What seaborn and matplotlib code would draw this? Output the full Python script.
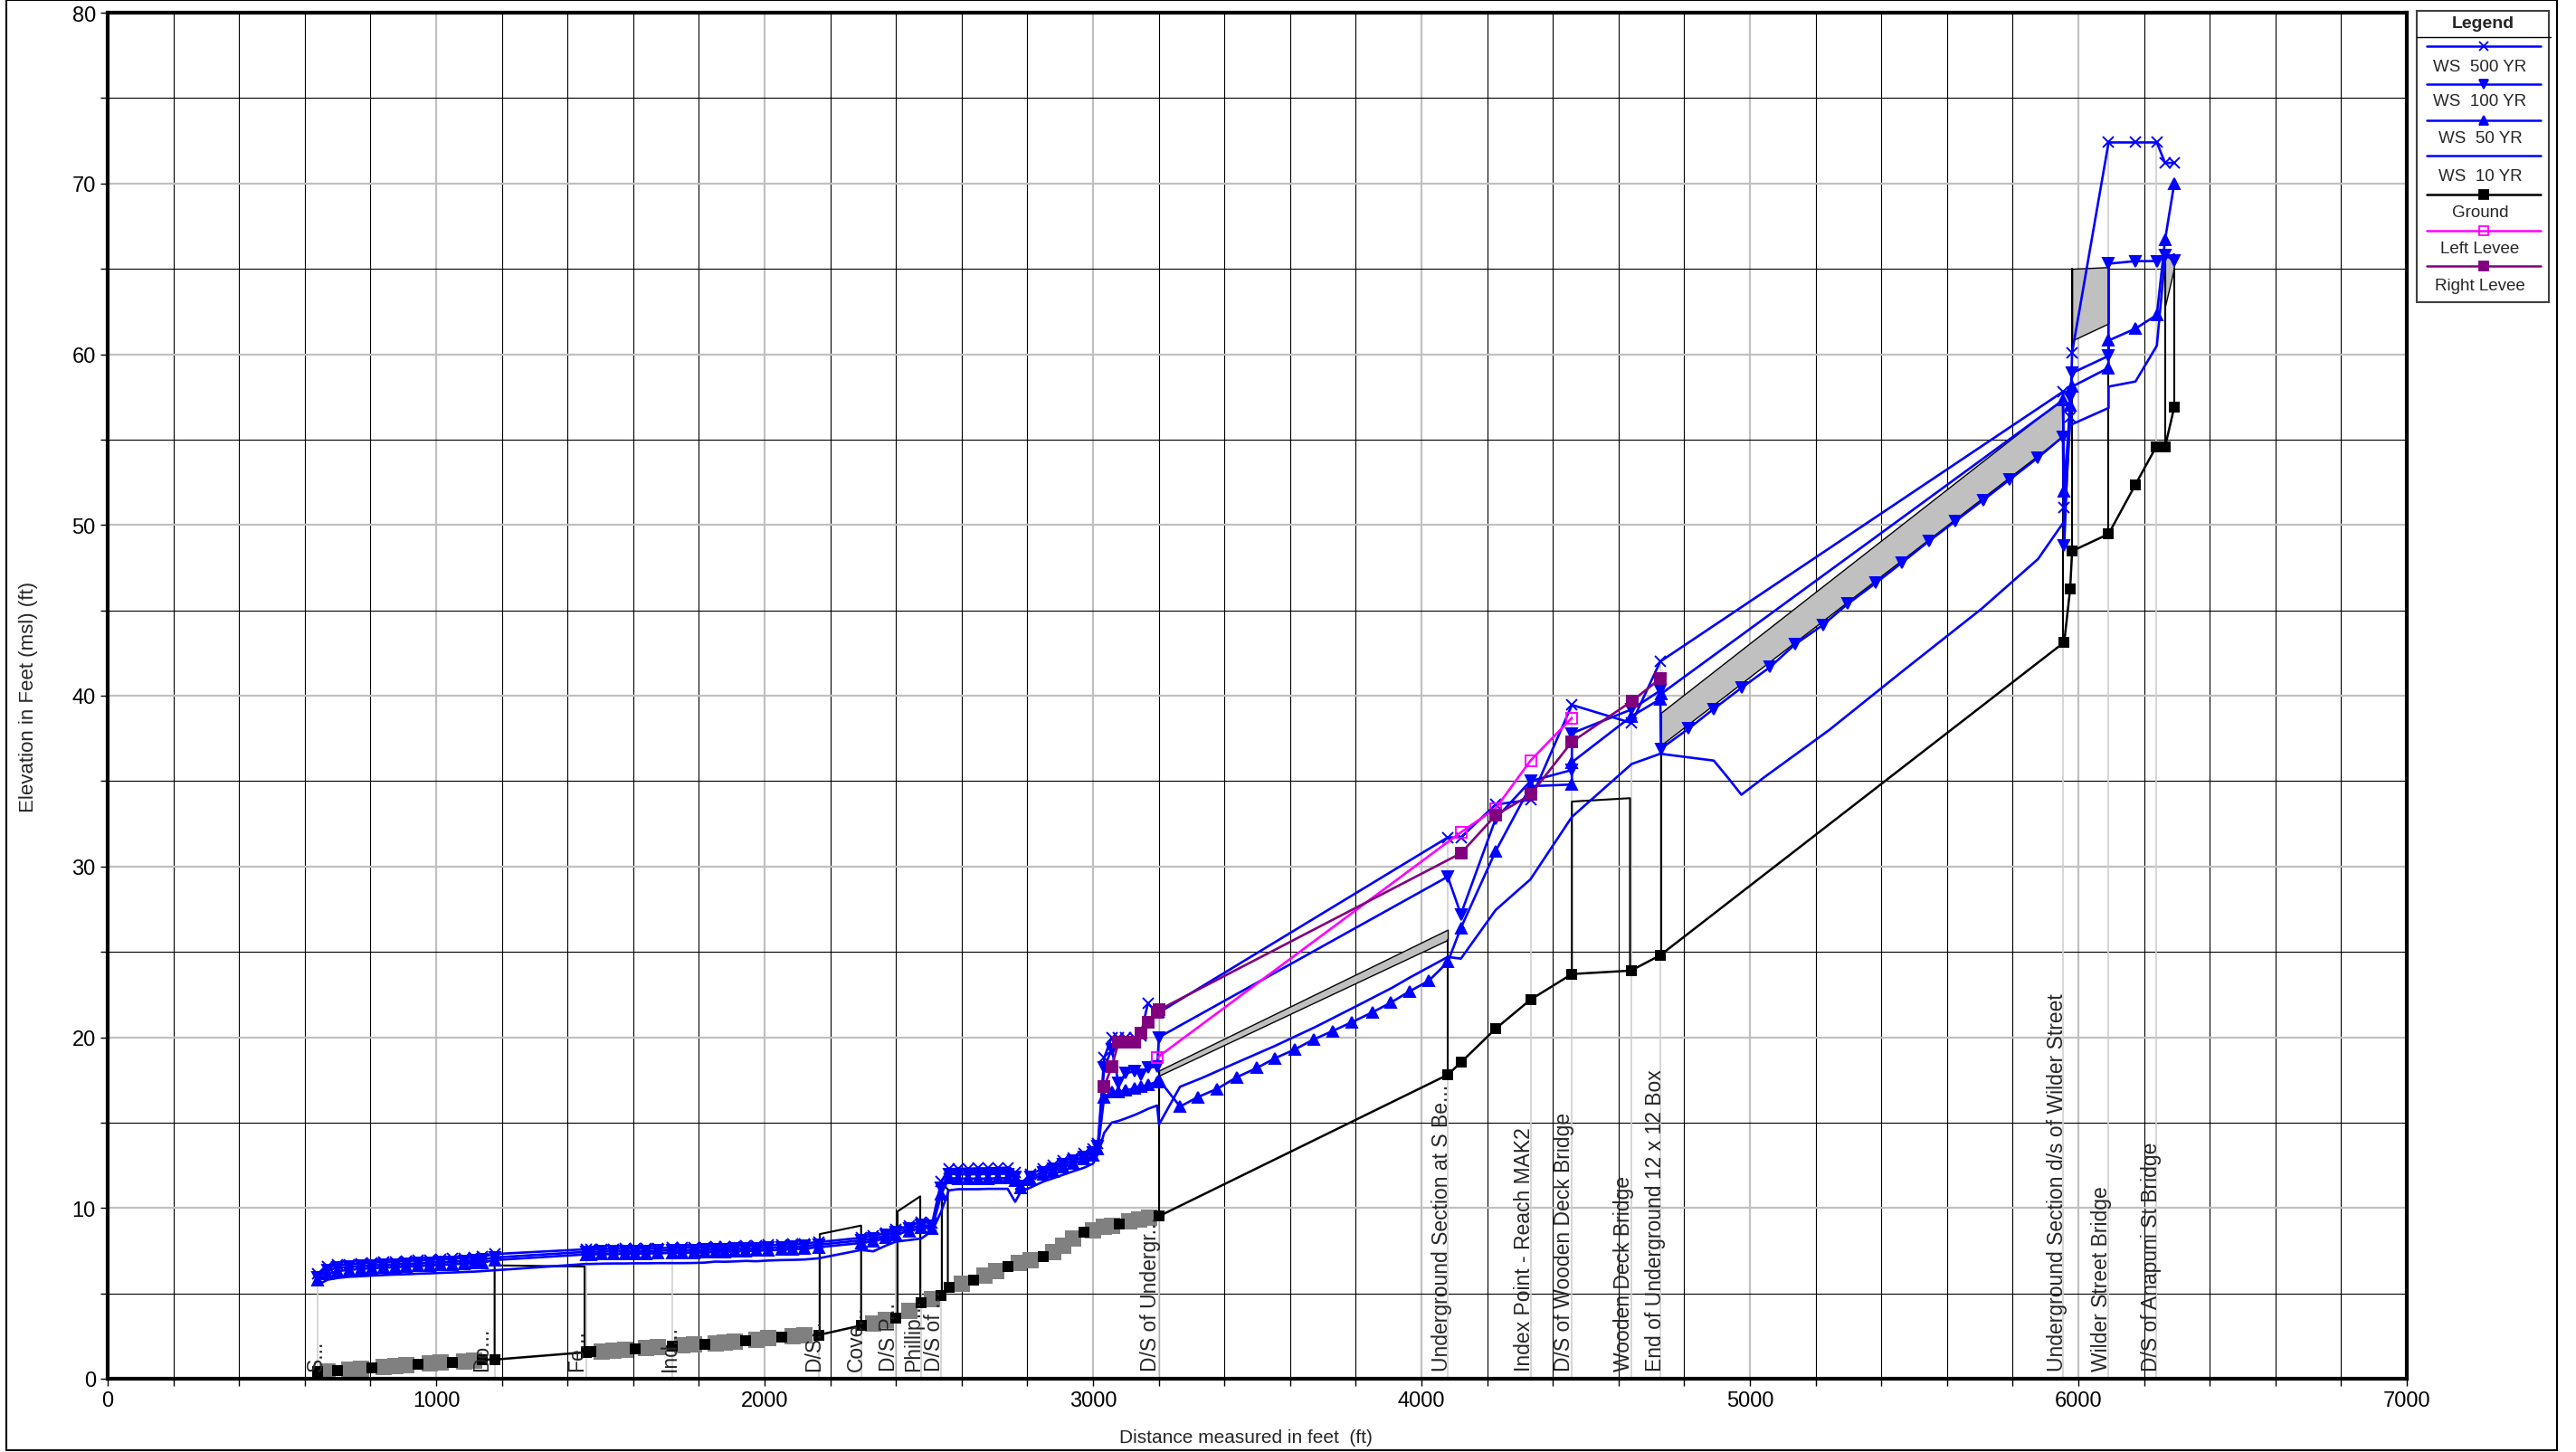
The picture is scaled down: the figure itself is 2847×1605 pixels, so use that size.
import numpy as np
import seaborn as sns
import matplotlib.pyplot as plt
from matplotlib.patches import Rectangle
from matplotlib.ticker import MultipleLocator

sns.set_style('white')
plt.rcParams['font.family'] = ['Liberation Sans Narrow', 'Liberation Sans', 'DejaVu Sans']

# --- ground profile (1 = surveyed section, 0 = interpolated section) ---
ground_x = [640, 670, 700, 735, 770, 805, 840, 875, 910, 945, 980, 1015, 1050, 1085, 1115, 1140, 1178,
            1456, 1470, 1505, 1540, 1575, 1605, 1640, 1675, 1719, 1750, 1785, 1819, 1850, 1880, 1910,
            1943, 1975, 2010, 2053, 2085, 2120, 2164, 2294, 2331, 2370, 2400, 2440, 2477, 2510, 2537,
            2561, 2600, 2635, 2670, 2705, 2740, 2775, 2810, 2849, 2880, 2910, 2940, 2972, 3000, 3034,
            3057, 3081, 3110, 3140, 3170, 3201, 4080, 4120, 4226, 4332, 4458, 4638, 4727, 5957, 5975,
            5981, 6092, 6174, 6237, 6264, 6292]
ground_y = [0.42, 0.45, 0.47, 0.53, 0.60, 0.66, 0.70, 0.76, 0.80, 0.86, 0.90, 0.93, 0.97, 1.02, 1.08, 1.13, 1.12,
            1.55, 1.57, 1.60, 1.64, 1.69, 1.73, 1.78, 1.84, 1.91, 1.95, 1.99, 2.03, 2.08, 2.13, 2.18,
            2.24, 2.30, 2.36, 2.45, 2.49, 2.52, 2.56, 3.12, 3.25, 3.42, 3.55, 3.95, 4.47, 4.65, 4.89,
            5.37, 5.55, 5.77, 6.05, 6.30, 6.58, 6.80, 6.95, 7.15, 7.40, 7.80, 8.20, 8.56, 8.70, 8.88,
            8.97, 9.07, 9.20, 9.32, 9.43, 9.52, 17.80, 18.52, 20.50, 22.20, 23.70, 23.90, 24.80, 43.13, 46.25,
            48.47, 49.47, 52.37, 54.58, 54.58, 56.90]
ground_real = [1, 0, 1, 0, 0, 1, 0, 0, 0, 1, 0, 0, 1, 0, 0, 1, 1,
               1, 1, 0, 0, 0, 1, 0, 0, 1, 0, 0, 1, 0, 0, 0,
               1, 0, 0, 1, 0, 0, 1, 1, 0, 0, 1, 0, 1, 0, 1,
               1, 0, 1, 0, 0, 1, 0, 0, 1, 0, 0, 0, 1, 0, 0,
               0, 1, 0, 0, 0, 1, 1, 1, 1, 1, 1, 1, 1, 1, 1,
               1, 1, 1, 1, 1, 1]

# --- water surfaces, lower reach (shared sections) ---
ws_low_x = [640, 670, 700, 735, 770, 805, 840, 875, 910, 945, 980, 1015, 1050, 1085, 1115, 1140, 1178,
            1456, 1470, 1505, 1540, 1575, 1605, 1640, 1675, 1719, 1750, 1785, 1819, 1850, 1880, 1910,
            1943, 1975, 2010, 2053, 2085, 2120, 2164,
            2294, 2331, 2370, 2400, 2440, 2477, 2510,
            2538, 2561, 2590, 2620, 2650, 2680, 2710, 2740, 2763, 2780,
            2810, 2849, 2880, 2910, 2940, 2972, 3000, 3015,
            3034, 3057, 3078, 3100, 3127, 3145, 3167, 3195, 3201]
ws500_low = [6.15, 6.55, 6.65, 6.70, 6.75, 6.80, 6.83, 6.86, 6.90, 6.93, 6.96, 7.00, 7.03, 7.07, 7.10, 7.15, 7.30,
             7.58, 7.58, 7.60, 7.60, 7.62, 7.62, 7.63, 7.65, 7.66, 7.67, 7.68, 7.70, 7.72, 7.74, 7.76,
             7.78, 7.80, 7.82, 7.85, 7.88, 7.92, 8.00,
             8.25, 8.35, 8.55, 8.74, 8.95, 9.18, 9.10,
             11.56, 12.27, 12.30, 12.30, 12.32, 12.32, 12.34, 12.36, 12.10, 11.40,
             12.00, 12.30, 12.50, 12.75, 12.95, 13.20, 13.45, 13.77,
             18.80, 20.00, 20.00, 20.00, 20.00, 20.10, 21.98, 21.45, 21.45]
ws100_low = [5.95, 6.35, 6.50, 6.55, 6.60, 6.64, 6.67, 6.70, 6.73, 6.76, 6.80, 6.83, 6.86, 6.90, 6.93, 6.97, 7.10,
             7.43, 7.43, 7.45, 7.45, 7.47, 7.47, 7.48, 7.50, 7.51, 7.52, 7.53, 7.55, 7.57, 7.59, 7.61,
             7.63, 7.65, 7.67, 7.70, 7.73, 7.77, 7.85,
             8.10, 8.20, 8.40, 8.60, 8.80, 9.00, 8.95,
             11.20, 12.00, 11.97, 11.97, 11.98, 11.98, 12.00, 12.00, 11.80, 11.30,
             11.80, 12.10, 12.30, 12.55, 12.75, 13.00, 13.25, 13.60,
             18.20, 19.30, 17.30, 17.90, 18.00, 17.80, 18.20, 18.30, 20.00]
ws50_low = [5.80, 6.15, 6.30, 6.38, 6.43, 6.47, 6.50, 6.53, 6.56, 6.60, 6.63, 6.66, 6.70, 6.74, 6.77, 6.80, 6.95,
            7.28, 7.28, 7.30, 7.30, 7.32, 7.32, 7.33, 7.35, 7.36, 7.37, 7.38, 7.40, 7.42, 7.44, 7.46,
            7.48, 7.50, 7.52, 7.55, 7.58, 7.62, 7.70,
            7.95, 8.05, 8.25, 8.45, 8.65, 8.85, 8.80,
            10.80, 11.75, 11.72, 11.72, 11.72, 11.72, 11.74, 11.74, 11.60, 11.20,
            11.65, 11.95, 12.15, 12.40, 12.60, 12.85, 13.10, 13.45,
            16.50, 16.80, 16.80, 16.90, 17.00, 17.10, 17.20, 17.40, 17.50]
ws10_low = [5.50, 5.80, 5.90, 5.97, 6.00, 6.04, 6.07, 6.10, 6.12, 6.15, 6.17, 6.20, 6.22, 6.25, 6.27, 6.30, 6.35,
            6.72, 6.72, 6.74, 6.75, 6.75, 6.76, 6.76, 6.77, 6.77, 6.77, 6.78, 6.80, 6.86, 6.85, 6.87,
            6.90, 6.88, 6.92, 6.95, 6.96, 6.98, 7.05,
            7.54, 7.46, 7.80, 8.03, 8.12, 8.21, 8.65,
            9.80, 11.03, 11.10, 11.10, 11.10, 11.12, 11.12, 11.12, 10.36, 10.95,
            11.20, 11.55, 11.75, 11.95, 12.15, 12.35, 12.60, 13.15,
            14.40, 15.00, 15.10, 15.25, 15.45, 15.60, 15.80, 16.00, 14.90]

# --- water surfaces, upper reach ---
ws500_up_x = [4080, 4120, 4226, 4332, 4458, 4640, 4727, 5953, 5957, 5975, 5981, 6092, 6174, 6239, 6264, 6292]
ws500_up = [31.70, 31.70, 33.63, 33.90, 39.46, 38.40, 42.00, 57.80, 51.00, 56.30, 60.10, 72.40, 72.40, 72.40, 71.20, 71.20]

ws100_up_x = [4080, 4120, 4226, 4332, 4458, 4458, 4640, 4727, 4729,
              4814, 4890, 4975, 5061, 5137, 5222, 5298, 5384, 5464, 5545, 5626, 5711, 5792, 5877, 5953,
              5957, 5975, 5981, 6092, 6092, 6174, 6239, 6264, 6292]
ws100_up = [29.40, 27.20, 32.80, 35.00, 35.65, 37.80, 39.20, 40.30, 36.90,
            38.08, 39.23, 40.47, 41.67, 43.00, 44.14, 45.38, 46.61, 47.81, 49.05, 50.23, 51.47, 52.67, 53.94, 55.17,
            48.80, 57.50, 58.90, 59.90, 65.30, 65.45, 65.45, 65.80, 65.50]

ws50_up_x = [3265, 3320, 3378, 3437, 3499, 3554, 3614, 3671, 3729, 3787, 3850, 3907, 3965, 4022, 4080,
             4120, 4226, 4332, 4458, 4458, 4640, 4727, 4729, 5953,
             5957, 5975, 5981, 6092, 6092, 6174, 6239, 6264, 6292]
ws50_up = [15.94, 16.50, 16.98, 17.65, 18.20, 18.77, 19.28, 19.86, 20.36, 20.87, 21.45, 22.03, 22.70, 23.30, 24.40,
           26.40, 30.90, 34.70, 34.80, 36.10, 38.80, 39.80, 40.10, 57.30,
           52.00, 57.00, 58.10, 59.20, 60.80, 61.50, 62.30, 66.70, 70.00]

ws10_up_x = [3265, 3330, 3430, 3555, 3677, 3800, 3911, 3965,
             4080, 4120, 4226, 4332, 4458, 4640, 4727,
             4890, 4933, 4974, 5042, 5242, 5469, 5706, 5877, 5953,
             5957, 5975, 5981, 6092, 6092, 6174, 6239, 6264, 6292]
ws10_up = [17.10, 17.60, 18.45, 19.50, 20.60, 21.80, 22.90, 23.50,
           24.70, 24.60, 27.45, 29.25, 32.90, 36.00, 36.60,
           36.20, 35.20, 34.20, 35.20, 38.00, 41.50, 45.10, 48.00, 50.10,
           50.10, 56.10, 55.90, 56.85, 58.10, 58.40, 60.50, 65.70, 65.70]

# --- levees ---
left_levee_x = [3195, 4120, 4226, 4332, 4458]
left_levee_y = [18.80, 32.00, 33.40, 36.20, 38.70]
right_levee_x = [3034, 3057, 3078, 3100, 3127, 3145, 3167, 3195, 3201, 4120, 4226, 4332, 4458, 4642, 4727]
right_levee_y = [17.10, 18.27, 19.70, 19.70, 19.70, 20.25, 20.87, 21.45, 21.60, 30.77, 33.00, 34.20, 37.30, 39.70, 41.00]

# --- decks (filled) and culvert tops (outline only) ---
deck_left = [3201, 4729, 5981, 6264]
deck_right = [4080, 5953, 6092, 6291]
deck_low_left = [17.75, 37.10, 60.80, 62.80]
deck_low_right = [25.70, 55.20, 61.80, 65.00]
deck_high_left = [18.05, 39.00, 65.00, 65.70]
deck_high_right = [26.30, 57.40, 65.10, 65.90]

culv_left = [1178, 2168, 2405, 2540, 4458]
culv_right = [1452, 2294, 2474, 2558, 4635]
culv_top_left = [6.64, 8.47, 9.80, 11.40, 33.80]
culv_top_right = [6.57, 8.97, 10.68, 11.10, 34.00]

# --- river station labels ---
label_pos = [635, 1140, 1430, 1711, 2150, 2278, 2378, 2454, 2516, 3175, 4062, 4312, 4434, 4615, 4712,
             5935, 6069, 6221]
label_text = ['S...', 'Do...', 'Fe...', 'Ind...', 'D/S...', 'Cove...', 'D/S P...', 'Phillip...', 'D/S of ...',
              'D/S of Undergr...', 'Underground Section at S Be...', 'Index Point - Reach MAK2',
              'D/S of Wooden Deck Bridge', 'Wooden Deck Bridge', 'End of Underground 12 x 12 Box',
              'Underground Section d/s of Wilder Street', 'Wilder Street Bridge', 'D/S of Anapuni St Bridge']
station_lines = [640, 1178, 1456, 1719, 2164, 2294, 2400, 2477, 2537, 3201, 4080, 4332, 4458, 4638, 4727,
                 5953, 6092, 6237]

BLUE = '#0000ff'
MAGENTA = '#ff00ff'
PURPLE = '#800080'
FILL = '#c0c0c0'

fig = plt.figure(figsize=(28.47, 16.06), dpi=100)
ax = fig.add_axes([119 / 2847, 81 / 1606, 2541 / 2847, 1510 / 1606])

gx = np.array(ground_x, float)
gy = np.array(ground_y, float)
real = np.array(ground_real, bool)

ws500_x = ws_low_x + ws500_up_x
ws500_y = ws500_low + ws500_up

# station lines
for s in station_lines:
    top = np.interp(s, ws500_x, ws500_y)
    ax.plot([s, s], [0, top], color='#d0d0d0', lw=1.2, zorder=1)

# decks
for i in range(len(deck_left)):
    xs = [deck_left[i], deck_right[i]]
    ax.fill_between(xs, [deck_low_left[i], deck_low_right[i]], [deck_high_left[i], deck_high_right[i]],
                    facecolor=FILL, edgecolor='black', lw=1.0, zorder=2)
    gl = np.interp(deck_left[i], gx, gy)
    gr = np.interp(deck_right[i], gx, gy)
    ax.plot([deck_left[i]] * 2, [gl, deck_high_left[i]], color='black', lw=1.5, zorder=2)
    ax.plot([deck_right[i]] * 2, [gr, deck_low_right[i]], color='black', lw=1.5, zorder=2)

# culverts
for i in range(len(culv_left)):
    gl = np.interp(culv_left[i], gx, gy)
    gr = np.interp(culv_right[i], gx, gy)
    ax.plot([culv_left[i], culv_left[i], culv_right[i], culv_right[i]],
            [gl, culv_top_left[i], culv_top_right[i], gr], color='black', lw=1.5, zorder=3)

# ground
sns.lineplot(x=ground_x, y=ground_y, sort=False, estimator=None, color='black', linewidth=1.8, ax=ax, zorder=4)
sns.scatterplot(x=gx[~real], y=gy[~real], marker='s', s=150, color='#808080', linewidth=0, ax=ax, zorder=4)
sns.scatterplot(x=gx[real], y=gy[real], marker='s', s=70, color='black', linewidth=0, ax=ax, zorder=5)


def ws_line(xs, ys, marker, color=BLUE, mfc=None, z=6):
    kw = dict(sort=False, estimator=None, color=color, linewidth=1.9, ax=ax, zorder=z)
    if marker is not None:
        kw.update(marker=marker, markersize=8, markeredgecolor=color, markeredgewidth=1.4,
                  markerfacecolor=color if mfc is None else mfc)
    sns.lineplot(x=xs, y=ys, **kw)


ws_line(ws_low_x + ws10_up_x, ws10_low + ws10_up, None)
ws_line(ws_low_x + ws50_up_x, ws50_low + ws50_up, '^')
ws_line(ws_low_x + ws100_up_x, ws100_low + ws100_up, 'v')
ws_line(ws500_x, ws500_y, 'x')
ws_line(left_levee_x, left_levee_y, 's', color=MAGENTA, mfc='none', z=7)
ws_line(right_levee_x, right_levee_y, 's', color=PURPLE, z=7)

for x, t in zip(label_pos, label_text):
    ax.text(x, 0.5, t, rotation=90, ha='center', va='bottom', fontsize=16.5,
            family=['Liberation Sans', 'DejaVu Sans'], zorder=8)

ax.set_xlim(0, 7000)
ax.set_ylim(0, 80)
ax.xaxis.set_major_locator(MultipleLocator(1000))
ax.xaxis.set_minor_locator(MultipleLocator(200))
ax.yaxis.set_major_locator(MultipleLocator(10))
ax.yaxis.set_minor_locator(MultipleLocator(5))
ax.set_axisbelow(True)
ax.grid(which='major', color='#c0c0c0', lw=1.6, zorder=0)
ax.grid(which='minor', color='black', lw=0.8, zorder=0)
ax.tick_params(which='both', direction='out', length=6, width=1, colors='black', labelsize=17,
               left=True, bottom=True)
for sp in ax.spines.values():
    sp.set_linewidth(3)
    sp.set_color('black')
    sp.set_zorder(9)
ax.set_xlabel('')
ax.set_ylabel('')

fig.text(32 / 2847, 1 - 770 / 1606, 'Elevation in Feet (msl) (ft)', rotation=90, ha='center', va='center',
         fontsize=16)
fig.text(1377 / 2847, 1 - 1590 / 1606, 'Distance measured in feet  (ft)', ha='center', va='center', fontsize=15)

# outer frame
fig.add_artist(Rectangle((7 / 2847, 2 / 1606), 2819 / 2847, 1603 / 1606, transform=fig.transFigure,
                         fill=False, ec='black', lw=1.5))

# legend panel
lax = fig.add_axes([2671 / 2847, 1 - 335 / 1606, 146 / 2847, 322 / 1606])
lax.set_xlim(0, 146)
lax.set_ylim(322, 0)
lax.axis('off')
lax.add_patch(Rectangle((0, 0), 146, 322, fill=False, ec='#404040', lw=1.5, clip_on=False))
lax.text(73, 14, 'Legend', ha='center', va='center', fontsize=14, fontweight='bold',
         family=['Liberation Sans', 'DejaVu Sans'])
lax.plot([0, 148], [29, 29], color='black', lw=1.0, clip_on=False)

leg_names = ['WS  500 YR', 'WS  100 YR', 'WS  50 YR', 'WS  10 YR', 'Ground', 'Left Levee', 'Right Levee']
leg_colors = [BLUE, BLUE, BLUE, BLUE, 'black', MAGENTA, PURPLE]
leg_markers = ['x', 'v', '^', None, 's', 's', 's']
leg_faces = [BLUE, BLUE, BLUE, BLUE, 'black', 'none', PURPLE]
line_y = [39, 81, 121, 160, 203, 243, 282]
text_y = [62, 100, 141, 183, 223, 263, 304]
for name, c, m, fc, ly, ty in zip(leg_names, leg_colors, leg_markers, leg_faces, line_y, text_y):
    lax.plot([11, 137], [ly, ly], color=c, lw=1.8)
    if m is not None:
        lax.plot([74], [ly], marker=m, color=c, markersize=7, markeredgecolor=c, markerfacecolor=fc,
                 markeredgewidth=1.3)
    lax.text(70, ty, name, ha='center', va='center', fontsize=13.5, family=['Liberation Sans', 'DejaVu Sans'])

fig.savefig('out.png', dpi=100)
